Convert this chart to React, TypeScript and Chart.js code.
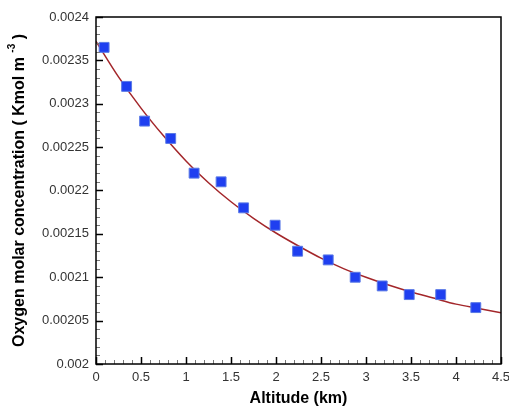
import React, { useEffect, useRef } from "react";
import { Chart, registerables } from "chart.js";

Chart.register(...registerables);

// Measured data (Altitude km, concentration Kmol m^-3)
const altitudeKm = [0.09, 0.34, 0.54, 0.83, 1.09, 1.39, 1.64, 1.99, 2.24, 2.58, 2.88, 3.18, 3.48, 3.83, 4.22];
const concentration = [
  0.002365, 0.00232, 0.00228, 0.00226, 0.00222, 0.00221, 0.00218, 0.00216, 0.00213, 0.00212, 0.0021,
  0.00209, 0.00208, 0.00208, 0.002065,
];

// Fitted curve
const fitAltitude = [0, 0.25, 0.5, 0.75, 1, 1.25, 1.5, 1.75, 2, 2.25, 2.5, 2.75, 3, 3.25, 3.5, 3.75, 4, 4.25, 4.5];
const fitConcentration = [
  0.002372, 0.002331, 0.002295, 0.002263, 0.002234, 0.002209, 0.002187, 0.002168, 0.002151, 0.002136,
  0.002122, 0.00211, 0.0021, 0.002091, 0.002083, 0.002076, 0.002069, 0.002064, 0.002059,
];

// Tick labels
const xTickValues = [0, 0.5, 1, 1.5, 2, 2.5, 3, 3.5, 4, 4.5];
const xTickLabels = ["0", "0.5", "1", "1.5", "2", "2.5", "3", "3.5", "4", "4.5"];
const yTickValues = [0.002, 0.00205, 0.0021, 0.00215, 0.0022, 0.00225, 0.0023, 0.00235, 0.0024];
const yTickLabels = ["0.002", "0.00205", "0.0021", "0.00215", "0.0022", "0.00225", "0.0023", "0.00235", "0.0024"];
const xMinorStep = 0.1;
const yMinorStep = 0.00001;

const labelFor = (values: number[], labels: string[], v: number) => {
  const i = values.findIndex((t) => Math.abs(t - v) < 1e-9);
  return i >= 0 ? labels[i] : "";
};

const frameAndTicks = {
  id: "frameAndTicks",
  afterDatasetsDraw(chart: any) {
    const { ctx, chartArea } = chart;
    const xs = chart.scales.x;
    const ys = chart.scales.y;
    const { left, right, top, bottom } = chartArea;
    ctx.save();
    // minor ticks
    ctx.strokeStyle = "#777";
    ctx.lineWidth = 1;
    ctx.beginPath();
    for (let v = xs.min; v <= xs.max + 1e-9; v += xMinorStep) {
      const px = Math.round(xs.getPixelForValue(v)) + 0.5;
      ctx.moveTo(px, bottom);
      ctx.lineTo(px, bottom - 4);
    }
    for (let v = ys.min; v <= ys.max + 1e-12; v += yMinorStep) {
      const py = Math.round(ys.getPixelForValue(v)) + 0.5;
      ctx.moveTo(left, py);
      ctx.lineTo(left + 4, py);
    }
    ctx.stroke();
    // major ticks
    ctx.strokeStyle = "#000";
    ctx.lineWidth = 1.5;
    ctx.beginPath();
    xTickValues.forEach((v) => {
      const px = Math.round(xs.getPixelForValue(v)) + 0.5;
      ctx.moveTo(px, bottom);
      ctx.lineTo(px, bottom - 7);
    });
    yTickValues.forEach((v) => {
      const py = Math.round(ys.getPixelForValue(v)) + 0.5;
      ctx.moveTo(left, py);
      ctx.lineTo(left + 7, py);
    });
    ctx.stroke();
    // frame
    ctx.lineWidth = 1.5;
    ctx.strokeRect(left, top, right - left, bottom - top);

    // y title with superscript
    ctx.fillStyle = "#000";
    ctx.translate(20, (top + bottom) / 2);
    ctx.rotate(-Math.PI / 2);
    const mainFont = "bold 16px 'Liberation Sans', Arial, sans-serif";
    const supFont = "bold 10px 'Liberation Sans', Arial, sans-serif";
    const p1 = "Oxygen molar concentration ( Kmol m ";
    const p2 = "-3";
    const p3 = " )";
    ctx.font = mainFont;
    const w1 = ctx.measureText(p1).width;
    const w3 = ctx.measureText(p3).width;
    ctx.font = supFont;
    const w2 = ctx.measureText(p2).width;
    let x0 = -(w1 + w2 + w3) / 2;
    ctx.textBaseline = "middle";
    ctx.textAlign = "left";
    ctx.font = mainFont;
    ctx.fillText(p1, x0, 0);
    x0 += w1;
    ctx.font = supFont;
    ctx.fillText(p2, x0, -8);
    x0 += w2;
    ctx.font = mainFont;
    ctx.fillText(p3, x0, 0);
    ctx.restore();
  },
};

export default function App() {
  const ref = useRef<HTMLCanvasElement>(null);
  useEffect(() => {
    if (!ref.current) return;
    const chart = new Chart(ref.current, {
      type: "scatter",
      data: {
        datasets: [
          {
            label: "Measured",
            data: altitudeKm.map((x, i) => ({ x, y: concentration[i] })),
            pointStyle: "rect",
            pointRadius: 7,
            backgroundColor: "#1f3ff0",
            borderColor: "#5b7ae6",
            borderWidth: 1,
            showLine: false,
            order: 0,
          },
          {
            label: "Fit",
            data: fitAltitude.map((x, i) => ({ x, y: fitConcentration[i] })),
            showLine: true,
            pointRadius: 0,
            borderColor: "#a3262a",
            borderWidth: 1.5,
            tension: 0.4,
            cubicInterpolationMode: "monotone",
            order: 1,
          },
        ],
      },
      options: {
        animation: false,
        responsive: false,
        maintainAspectRatio: false,
        layout: { padding: { left: 0, right: 8, top: 17, bottom: 0 } },
        plugins: { legend: { display: false }, tooltip: { enabled: false } },
        scales: {
          x: {
            type: "linear",
            min: 0,
            max: 4.5,
            afterBuildTicks: (s: any) => {
              s.ticks = xTickValues.map((value) => ({ value }));
            },
            afterFit: (s: any) => {
              s.height = 44;
              s.paddingLeft = 0;
              s.paddingRight = 0;
            },
            grid: { display: false, drawTicks: false },
            border: { display: false },
            ticks: {
              padding: 6,
              color: "#333",
              font: { family: "'Liberation Sans', Arial, sans-serif", size: 13 },
              maxRotation: 0,
              autoSkip: false,
              callback: (v: any) => labelFor(xTickValues, xTickLabels, Number(v)),
            },
            title: {
              display: true,
              text: "Altitude (km)",
              color: "#000",
              font: { family: "'Liberation Sans', Arial, sans-serif", size: 16, weight: "bold" },
              padding: { top: 3, bottom: 0 },
            },
          },
          y: {
            type: "linear",
            min: 0.002,
            max: 0.0024,
            afterBuildTicks: (s: any) => {
              s.ticks = yTickValues.map((value) => ({ value }));
            },
            afterFit: (s: any) => {
              s.width = 96;
              s.paddingTop = 0;
              s.paddingBottom = 0;
            },
            grid: { display: false, drawTicks: false },
            border: { display: false },
            ticks: {
              padding: 7,
              color: "#333",
              font: { family: "'Liberation Sans', Arial, sans-serif", size: 13 },
              autoSkip: false,
              callback: (v: any) => labelFor(yTickValues, yTickLabels, Number(v)),
            },
          },
        },
      },
      plugins: [frameAndTicks],
    } as any);
    return () => chart.destroy();
  }, []);
  return (
    <div style={{ position: "fixed", left: 0, top: 0, width: 509, height: 408, background: "#fff" }}>
      <canvas ref={ref} width={509} height={408} style={{ display: "block" }} />
    </div>
  );
}
